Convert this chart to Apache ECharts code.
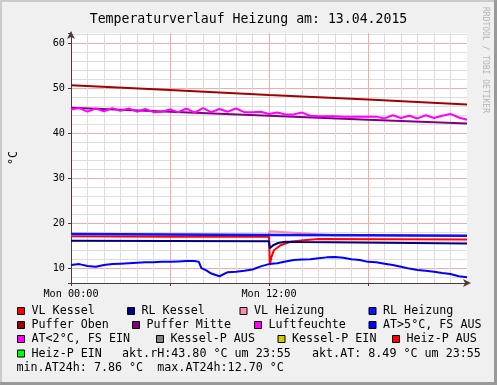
<!DOCTYPE html>
<html><head><meta charset="utf-8">
<script src="https://cdn.jsdelivr.net/npm/echarts@6/dist/echarts.min.js"></script>
<style>html,body{margin:0;padding:0;background:#f0f0f0}#c{width:497px;height:385px}</style>
</head><body><div id="c"></div><script>
// ---------- data ----------
var titleText = 'Temperaturverlauf Heizung am: 13.04.2015';
var unitText = '°C';
var xLabelHours = [0, 12];
var xLabelTexts = ['Mon 00:00', 'Mon 12:00'];
var yLabelValues = [10, 20, 30, 40, 50, 60];

var hoursCoarse = [0, 6, 12, 18, 24];
var pufferOben  = [50.7, 49.6, 48.5, 47.5, 46.4];
var pufferMitte = [45.7, 44.8, 43.9, 43.0, 42.2];
var rlHeizung   = [17.6, 17.5, 17.4, 17.3, 17.2];

var vlKesselHours = [0, 6, 12, 12.05, 12.15, 12.3, 12.7, 13.3, 14.1, 15, 24];
var vlKessel      = [17.1, 17.0, 17.0, 10.7, 12.5, 14.0, 15.1, 15.85, 16.2, 16.5, 16.4];

var rlKesselHours = [0, 12, 12.05, 12.25, 12.55, 13.0, 14, 24];
var rlKessel      = [16.1, 16.0, 14.4, 15.1, 15.6, 15.85, 15.8, 15.5];

var vlHeizungHours = [0, 12, 12.02, 16, 24];
var vlHeizung      = [17.5, 17.4, 18.2, 17.3, 17.2];

var atHours = [0,0.5,1,1.5,2,2.5,3,3.5,4,4.5,5,5.5,6,6.5,7,7.5,7.75,7.9,8.2,8.5,9,9.5,10,10.5,11,11.5,12,
               12.5,13,13.5,14,14.5,15,15.5,16,16.5,17,17.5,18,18.5,19,19.5,20,20.5,21,21.5,22,22.5,23,23.5,24];
var aussenTemp = [10.7,10.9,10.5,10.3,10.7,10.9,11.0,11.1,11.2,11.3,11.3,11.4,11.4,11.5,11.6,11.6,11.4,10.0,9.5,8.8,8.2,9.1,9.2,9.4,9.7,10.4,10.9,
                  11.1,11.5,11.8,11.9,12.0,12.2,12.4,12.5,12.3,12.0,11.8,11.4,11.3,11.0,10.7,10.3,9.9,9.6,9.4,9.2,8.9,8.7,8.2,8.0];

var hoursHalf = [0,0.5,1,1.5,2,2.5,3,3.5,4,4.5,5,5.5,6,6.5,7,7.5,8,8.5,9,9.5,10,10.5,11,11.5,12,
                 12.5,13,13.5,14,14.5,15,15.5,16,16.5,17,17.5,18,18.5,19,19.5,20,20.5,21,21.5,22,22.5,23,23.5,24];
var luftfeuchte = [45.3,45.6,44.8,45.5,44.9,45.6,45.0,45.5,44.8,45.4,44.7,44.8,45.3,44.7,45.5,44.6,45.6,44.7,45.4,44.8,45.5,44.7,44.7,44.8,44.3,
                   44.6,44.2,44.2,44.6,43.9,43.8,43.8,43.8,43.7,43.7,43.7,43.7,43.7,43.3,44.0,43.4,43.9,43.3,44.0,43.4,43.9,44.3,43.5,43.0];

var infoRow4a = 'akt.rH:43.80 °C um 23:55';
var infoRow4b = 'akt.AT: 8.49 °C um 23:55';
var infoRow5  = 'min.AT24h: 7.86 °C  max.AT24h:12.70 °C';
var watermark = 'RRDTOOL / TOBI OETIKER';

// ---------- chart ----------
var MONO = 'DejaVu Sans Mono';
function pairs(xs, ys){ return xs.map(function(x,i){ return [x, ys[i]]; }); }
function line(name, xs, ys, color){
  return {type:'line', name:name, data:pairs(xs, ys), symbol:'none', showSymbol:false,
    lineStyle:{width:2, color:color}, itemStyle:{color:color}, animation:false};
}
function empty(name, color){
  return {type:'line', name:name, data:[], symbol:'none', lineStyle:{width:2,color:color}, itemStyle:{color:color}};
}

var series = [
  line('VL Kessel', vlKesselHours, vlKessel, '#ff0000'),
  line('RL Kessel', rlKesselHours, rlKessel, '#000080'),
  line('VL Heizung', vlHeizungHours, vlHeizung, '#ff8ca8'),
  line('RL Heizung', hoursCoarse, rlHeizung, '#1010ff'),
  line('Puffer Oben', hoursCoarse, pufferOben, '#a00000'),
  line('Puffer Mitte', hoursCoarse, pufferMitte, '#800080'),
  line('Luftfeuchte', hoursHalf, luftfeuchte, '#ff00ff'),
  line('AT>5°C, FS AUS', atHours, aussenTemp, '#0000ff'),
  empty('AT<2°C, FS EIN', '#ff00ff'),
  empty('Kessel-P AUS', '#808080'),
  empty('Kessel-P EIN', '#cccc00'),
  empty('Heiz-P AUS', '#ff0000'),
  empty('Heiz-P EIN', '#00ff00')
];
series[3].lineStyle.width = 2.5;

// legend layout: [name, left, rowTop]
var rowTops = [304, 318, 332, 346.5, 360.5];
var legendLayout = [
  ['VL Kessel',17,0],['RL Kessel',127,0],['VL Heizung',239.5,0],['RL Heizung',368.5,0],
  ['Puffer Oben',17,1],['Puffer Mitte',132,1],['Luftfeuchte',254,1],['AT>5°C, FS AUS',368.5,1],
  ['AT<2°C, FS EIN',17,2],['Kessel-P AUS',156,2],['Kessel-P EIN',277.5,2],['Heiz-P AUS',392,2],
  ['Heiz-P EIN',17,3]
];
var legends = legendLayout.map(function(l){
  return {data:[l[0]], left:l[1], top:rowTops[l[2]], padding:0, selectedMode:false,
    icon:'rect', itemWidth:7, itemHeight:7, itemGap:0,
    itemStyle:{borderColor:'#000', borderWidth:1},
    textStyle:{fontFamily:MONO, fontSize:11.7, color:'#000', lineHeight:14, padding:[0,0,0,2]}};
});

var chart = echarts.init(document.getElementById('c'), null, {renderer:'canvas'});
chart.setOption({
  animation:false,
  backgroundColor:'#f0f0f0',
  title:{text:titleText, left:'center', top:8,
    textStyle:{fontFamily:MONO, fontSize:13.2, fontWeight:'normal', color:'#000'}},
  grid:{left:67, top:33, width:400, height:250, show:true, backgroundColor:'#ffffff', borderWidth:0},
  legend:legends,
  xAxis:{type:'value', min:0, max:24, interval:6,
    axisLine:{show:true, onZero:false, lineStyle:{color:'#4d3b3b', width:1},
      symbol:['none','arrow'], symbolSize:[6,8], symbolOffset:[0,4]},
    axisTick:{show:true, length:3, lineStyle:{color:'#4d3b3b'}},
    axisLabel:{margin:6, fontFamily:MONO, fontSize:10.2, color:'#000', showMaxLabel:false,
      formatter:function(v){ var i = xLabelHours.indexOf(v); return i >= 0 ? xLabelTexts[i] : ''; }},
    splitLine:{show:true, showMinLine:true, showMaxLine:false, lineStyle:{color:'#f6aaaa', width:1}},
    minorTick:{show:false, splitNumber:6},
    minorSplitLine:{show:true, lineStyle:{color:'#dddddd', width:1}}
  },
  yAxis:{type:'value', min:6.7, max:62.3, splitNumber:5, minInterval:10, maxInterval:10,
    name:unitText, nameLocation:'middle', nameGap:51, nameRotate:90,
    nameTextStyle:{fontFamily:MONO, fontSize:11.7, color:'#000'},
    axisLine:{show:true, lineStyle:{color:'#4d3b3b', width:1},
      symbol:['none','arrow'], symbolSize:[6,8], symbolOffset:[0,2]},
    axisTick:{show:true, length:3, lineStyle:{color:'#4d3b3b'}},
    axisLabel:{margin:6, fontFamily:MONO, fontSize:10.2, color:'#000',
      formatter:function(v){ for (var i=0;i<yLabelValues.length;i++){ if (Math.abs(v-yLabelValues[i])<1e-6) return String(yLabelValues[i]); } return ''; }},
    splitLine:{show:true, showMinLine:false, showMaxLine:false, lineStyle:{color:'#f6aaaa', width:1}},
    minorTick:{show:false, splitNumber:5},
    minorSplitLine:{show:true, lineStyle:{color:'#dddddd', width:1}}
  },
  graphic:[
    {type:'rect', shape:{x:0,y:0,width:497,height:2}, style:{fill:'#cbcbcb'}, silent:true},
    {type:'rect', shape:{x:0,y:0,width:2,height:385}, style:{fill:'#cbcbcb'}, silent:true},
    {type:'rect', shape:{x:494,y:0,width:3,height:385}, style:{fill:'#999999'}, silent:true},
    {type:'rect', shape:{x:0,y:382,width:497,height:3}, style:{fill:'#999999'}, silent:true},
    {type:'text', x:485, y:7, rotation:-Math.PI/2, silent:true,
      style:{text:watermark, font:'8px "DejaVu Sans Mono"', fill:'#b4b4b4', align:'left', verticalAlign:'middle'}},
    {type:'text', x:122, y:353.5, silent:true,
      style:{text:infoRow4a, font:'11.7px "DejaVu Sans Mono"', fill:'#000', align:'left', verticalAlign:'middle'}},
    {type:'text', x:312, y:353.5, silent:true,
      style:{text:infoRow4b, font:'11.7px "DejaVu Sans Mono"', fill:'#000', align:'left', verticalAlign:'middle'}},
    {type:'text', x:16.5, y:367.5, silent:true,
      style:{text:infoRow5, font:'11.7px "DejaVu Sans Mono"', fill:'#000', align:'left', verticalAlign:'middle'}}
  ],
  series:series
});
</script></body></html>
